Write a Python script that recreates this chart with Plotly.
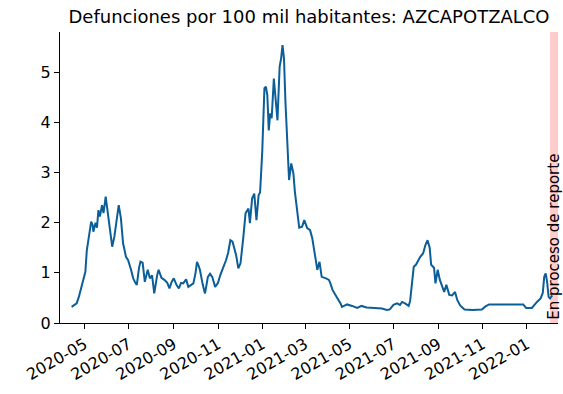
import plotly.graph_objects as go

dates = [
    "2020-04-13", "2020-04-16", "2020-04-20", "2020-04-23", "2020-04-26", "2020-04-30",
    "2020-05-02", "2020-05-04", "2020-05-06", "2020-05-08", "2020-05-10", "2020-05-12",
    "2020-05-13", "2020-05-16", "2020-05-18", "2020-05-20", "2020-05-22", "2020-05-25",
    "2020-05-27", "2020-05-29", "2020-05-30", "2020-06-01", "2020-06-02", "2020-06-05",
    "2020-06-08", "2020-06-11", "2020-06-14", "2020-06-17", "2020-06-20", "2020-06-23",
    "2020-06-27", "2020-06-30", "2020-07-04", "2020-07-07", "2020-07-10", "2020-07-12",
    "2020-07-15", "2020-07-17", "2020-07-20", "2020-07-23", "2020-07-27", "2020-07-30",
    "2020-08-02", "2020-08-05", "2020-08-09", "2020-08-11", "2020-08-15", "2020-08-19",
    "2020-08-23", "2020-08-26", "2020-08-29", "2020-09-01", "2020-09-05", "2020-09-08",
    "2020-09-11", "2020-09-14", "2020-09-18", "2020-09-21", "2020-09-25", "2020-09-28",
    "2020-10-01", "2020-10-03", "2020-10-05", "2020-10-07", "2020-10-11", "2020-10-14",
    "2020-10-16", "2020-10-18", "2020-10-21", "2020-10-24", "2020-10-28", "2020-11-01",
    "2020-11-04", "2020-11-07", "2020-11-10", "2020-11-12", "2020-11-15", "2020-11-18",
    "2020-11-21", "2020-11-24", "2020-11-26", "2020-11-29", "2020-12-02", "2020-12-06",
    "2020-12-09", "2020-12-13", "2020-12-15", "2020-12-18", "2020-12-21", "2020-12-24",
    "2020-12-27", "2020-12-29", "2021-01-01", "2021-01-04", "2021-01-06", "2021-01-08",
    "2021-01-10", "2021-01-12", "2021-01-14", "2021-01-17", "2021-01-19", "2021-01-22",
    "2021-01-25", "2021-01-27", "2021-01-29", "2021-01-31", "2021-02-02", "2021-02-04",
    "2021-02-06", "2021-02-07", "2021-02-10", "2021-02-13", "2021-02-15", "2021-02-18",
    "2021-02-21", "2021-02-25", "2021-02-28", "2021-03-04", "2021-03-08", "2021-03-11",
    "2021-03-15", "2021-03-18", "2021-03-21", "2021-03-24", "2021-03-30", "2021-04-03",
    "2021-04-05", "2021-04-08", "2021-04-12", "2021-04-15", "2021-04-19", "2021-04-21",
    "2021-04-28", "2021-05-05", "2021-05-12", "2021-05-18", "2021-05-25", "2021-06-05",
    "2021-06-15", "2021-06-22", "2021-06-26", "2021-07-01", "2021-07-06", "2021-07-10",
    "2021-07-13", "2021-07-17", "2021-07-22", "2021-07-24", "2021-07-27", "2021-07-29",
    "2021-08-01", "2021-08-04", "2021-08-07", "2021-08-11", "2021-08-14", "2021-08-17",
    "2021-08-20", "2021-08-22", "2021-08-26", "2021-08-28", "2021-08-31", "2021-09-03",
    "2021-09-06", "2021-09-09", "2021-09-12", "2021-09-16", "2021-09-20", "2021-09-24",
    "2021-09-27", "2021-10-01", "2021-10-04", "2021-10-07", "2021-10-18", "2021-10-31",
    "2021-11-05", "2021-11-10", "2021-12-02", "2021-12-27", "2021-12-31", "2022-01-08",
    "2022-01-15", "2022-01-20", "2022-01-23", "2022-01-25", "2022-01-27", "2022-01-29",
    "2022-01-31", "2022-02-02", "2022-02-05",
]

deaths_per_100k = [
    0.32, 0.35, 0.39, 0.52, 0.69, 0.86,
    1.02, 1.45, 1.65, 1.85, 2.02, 1.95,
    1.82, 2.00, 1.90, 2.25, 2.12, 2.35,
    2.19, 2.40, 2.52, 2.30, 2.19, 1.92,
    1.52, 1.72, 1.99, 2.35, 2.09, 1.59,
    1.32, 1.25, 1.06, 0.89, 0.80, 0.76,
    1.10, 1.22, 1.20, 0.82, 1.06, 0.89,
    0.95, 0.59, 0.95, 1.06, 0.90, 0.86,
    0.80, 0.69, 0.82, 0.89, 0.75, 0.69,
    0.80, 0.79, 0.87, 0.72, 0.76, 0.79,
    1.00, 1.22, 1.15, 1.06, 0.76, 0.59,
    0.75, 0.92, 0.98, 0.92, 0.72, 0.80,
    0.95, 1.06, 1.15, 1.25, 1.40, 1.65,
    1.62, 1.45, 1.35, 1.09, 1.19, 1.72,
    2.19, 2.28, 1.99, 2.48, 2.58, 2.05,
    2.55, 2.60, 3.41, 4.68, 4.71, 4.54,
    3.84, 4.18, 4.08, 4.87, 4.58, 4.04,
    5.11, 5.27, 5.54, 5.27, 4.41, 3.75,
    3.15, 2.85, 3.18, 2.98, 2.62, 2.30,
    1.90, 1.92, 2.05, 1.89, 1.85, 1.69,
    1.32, 1.06, 1.22, 0.92, 0.89, 0.86,
    0.79, 0.66, 0.56, 0.49, 0.39, 0.32,
    0.37, 0.34, 0.30, 0.34, 0.31, 0.30,
    0.29, 0.26, 0.27, 0.36, 0.39, 0.36,
    0.42, 0.39, 0.34, 0.44, 0.80, 1.12,
    1.16, 1.25, 1.32, 1.39, 1.55, 1.65,
    1.50, 1.16, 1.10, 0.79, 1.06, 0.86,
    0.75, 0.62, 0.76, 0.56, 0.55, 0.62,
    0.46, 0.35, 0.31, 0.27, 0.26, 0.27,
    0.33, 0.37, 0.37, 0.37, 0.30, 0.30,
    0.42, 0.49, 0.60, 0.92, 0.99, 0.82,
    0.52, 0.49, 0.55,
]

title_text = "Defunciones por 100 mil habitantes: AZCAPOTZALCO"
band_start = "2022-02-02"
band_end = "2022-02-13"
band_label = "En proceso de reporte"
x_range = ["2020-03-28", "2022-02-13"]
y_range = [0, 5.8]

FONT = "DejaVu Sans"
W, H = 563, 394

fig = go.Figure()
fig.add_trace(go.Scatter(
    x=dates, y=deaths_per_100k, mode="lines",
    line=dict(color="#0b5e98", width=2),
    showlegend=False,
))

fig.add_vrect(x0=band_start, x1=band_end, fillcolor="rgba(255,0,0,0.2)",
              line_width=0, layer="below")

fig.add_annotation(
    x="2022-02-07T12:00", y=1.72, text=band_label, textangle=-90,
    showarrow=False, xanchor="center", yanchor="middle",
    font=dict(family=FONT, size=15, color="#000000"),
)

fig.update_layout(
    width=W, height=H,
    margin=dict(l=60, r=5, t=32, b=71, autoexpand=False),
    plot_bgcolor="white", paper_bgcolor="white",
    font=dict(family=FONT, size=16, color="#000000"),
    title=dict(text=title_text, x=0.5, xref="paper", xanchor="center",
               y=1 - 16.5 / H, yref="container", yanchor="middle",
               font=dict(family=FONT, size=18, color="#000000")),
    xaxis=dict(
        range=x_range, type="date", tickformat="%Y-%m", dtick="M2",
        tick0="2020-05-01", tickangle=-30, showgrid=False, zeroline=False,
        showline=True, linecolor="#000000", linewidth=1, automargin=False,
        ticks="outside", ticklen=5, tickcolor="#000000",
        tickfont=dict(family=FONT, size=16, color="#000000"),
    ),
    yaxis=dict(
        range=y_range, dtick=1, tick0=0, showgrid=False, zeroline=False,
        showline=True, linecolor="#000000", linewidth=1, automargin=False,
        ticks="outside", ticklen=5, tickcolor="#000000",
        tickfont=dict(family=FONT, size=16, color="#000000"),
    ),
)

# remove the page's default 8px body margin so the figure sits at the top-left
fig.write_html("out.html", config={"displayModeBar": False},
               post_script="document.body.style.margin='0px';")
